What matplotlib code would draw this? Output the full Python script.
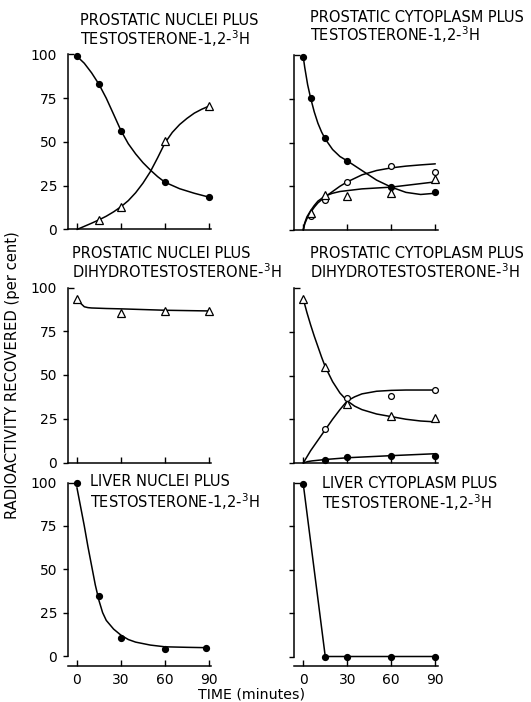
import matplotlib
matplotlib.use("Agg")
import matplotlib.pyplot as plt

# ---------------- data ----------------
# Prostatic nuclei + testosterone-1,2-3H
tl_T_time = [0, 15, 30, 60, 90]
tl_T = [99, 83, 56, 27, 18.5]
tl_D_time = [15, 30, 60, 90]
tl_D = [5.5, 13, 50.5, 70.5]
tl_T_fit_t = [0, 5, 10, 15, 20, 25, 30, 35, 40, 45, 50, 55, 60, 70, 80, 90]
tl_T_fit = [99, 95, 89.5, 83, 75, 65.8, 56.5, 49, 43.2, 38.2, 34, 30.2, 27, 23.3, 20.7, 18.5]
tl_D_fit_t = [0, 5, 10, 15, 20, 25, 30, 35, 40, 45, 50, 55, 60, 65, 70, 75, 80, 85, 90]
tl_D_fit = [0, 1.8, 3.6, 5.5, 7.6, 10.1, 13, 16.5, 21, 26.5, 33, 41, 49.5, 55.5, 60, 63.5, 66.5, 68.7, 70.5]

# Prostatic cytoplasm + testosterone-1,2-3H
tr_T_time = [0, 5, 15, 30, 60, 90]
tr_T = [99, 75.5, 52.5, 39.5, 24.5, 22]
tr_O_time = [5, 15, 30, 60, 90]
tr_O = [7.8, 17.3, 27.6, 36.8, 33.3]
tr_D_time = [5, 15, 30, 60, 90]
tr_D = [10, 20.2, 19.6, 21, 29]
tr_T_fit_t = [0, 1, 2, 3, 5, 7.5, 10, 12.5, 15, 20, 25, 30, 40, 50, 60, 70, 80, 90]
tr_T_fit = [99, 93, 88, 83, 75.5, 67.5, 61, 56, 52, 46, 42, 39.5, 34, 28.5, 24.5, 21.5, 20.3, 21]
tr_O_fit_t = [0, 1, 2.5, 5, 7.5, 10, 15, 20, 25, 30, 40, 50, 60, 70, 80, 90]
tr_O_fit = [0, 3.5, 6.5, 10, 13, 15.5, 19, 22, 25, 27.5, 31.5, 34, 35.5, 36.5, 37.2, 37.8]
tr_D_fit_t = [0, 1, 2.5, 5, 7.5, 10, 15, 20, 25, 30, 40, 50, 60, 70, 80, 90]
tr_D_fit = [0, 4, 7.5, 11, 14, 16.5, 19.5, 21, 22, 22.5, 23.5, 24, 24.5, 25.5, 26.5, 27.5]

# Prostatic nuclei + dihydrotestosterone-3H
ml_D_time = [0, 30, 60, 90]
ml_D = [93.5, 85.5, 86.7, 86.7]
ml_D_fit_t = [0, 2.5, 5, 7.5, 10, 20, 30, 45, 60, 75, 90]
ml_D_fit = [93.5, 91, 89, 88.5, 88.3, 88, 87.8, 87.4, 87, 86.8, 86.6]

# Prostatic cytoplasm + dihydrotestosterone-3H
mr_D_time = [0, 15, 30, 60, 90]
mr_D = [93.8, 54.8, 33.6, 26.9, 26]
mr_O_time = [15, 30, 60, 90]
mr_O = [19.2, 36.9, 38.5, 41.7]
mr_T_time = [15, 30, 60, 90]
mr_T = [1.9, 3.3, 3.8, 3.8]
mr_D_fit_t = [0, 2.5, 5, 7.5, 10, 12.5, 15, 20, 25, 30, 35, 40, 50, 60, 70, 80, 90]
mr_D_fit = [93.8, 86, 79, 72.5, 66.5, 60.5, 55, 46.5, 40, 35.5, 32.5, 30.5, 28, 26.5, 25, 24, 23.5]
mr_O_fit_t = [0, 5, 10, 15, 20, 25, 30, 35, 40, 50, 60, 70, 80, 90]
mr_O_fit = [0, 7, 13, 19, 25, 30.5, 35.5, 37.8, 39.5, 41, 41.5, 41.7, 41.7, 41.7]
mr_T_fit_t = [0, 3, 6, 15, 30, 60, 90]
mr_T_fit = [0, 0.8, 1.2, 2, 3, 4.2, 5.3]

# Liver nuclei + testosterone-1,2-3H
bl_T_time = [0, 15, 30, 60, 88]
bl_T = [100, 34.4, 10.4, 4.3, 4.8]
bl_T_fit_t = [0, 2.5, 5, 7.5, 10, 12.5, 15, 17.5, 20, 25, 30, 35, 40, 50, 60, 75, 88]
bl_T_fit = [97, 86, 75, 63, 52, 41, 32, 25, 20.5, 15.5, 12, 9.5, 8, 6.3, 5.3, 5, 4.8]

# Liver cytoplasm + testosterone-1,2-3H
br_T_time = [0, 15, 30, 60, 90]
br_T = [99.5, 0, 0, 0, 0]

titles = {
    "tl": ["PROSTATIC NUCLEI PLUS", "TESTOSTERONE-1,2-$^{3}$H"],
    "tr": ["PROSTATIC CYTOPLASM PLUS", "TESTOSTERONE-1,2-$^{3}$H"],
    "ml": ["PROSTATIC NUCLEI PLUS", "DIHYDROTESTOSTERONE-$^{3}$H"],
    "mr": ["PROSTATIC CYTOPLASM PLUS", "DIHYDROTESTOSTERONE-$^{3}$H"],
    "bl": ["LIVER NUCLEI PLUS", "TESTOSTERONE-1,2-$^{3}$H"],
    "br": ["LIVER CYTOPLASM PLUS", "TESTOSTERONE-1,2-$^{3}$H"],
}
yticks = [0, 25, 50, 75]
ytop = [100]
xticks = [0, 30, 60, 90]

# ---------------- figure ----------------
W, H = 531, 702
fig = plt.figure(figsize=(W / 100, H / 100), dpi=100)
plt.rcParams['font.family'] = ['DejaVu Sans']

def px_axes(left, top, width, height):
    return fig.add_axes([left / W, 1 - (top + height) / H, width / W, height / H])

colw = 143.5
axes = {
    "tl": px_axes(67.7, 54.5, colw, 175),
    "tr": px_axes(294.0, 55.0, colw, 175),
    "ml": px_axes(67.7, 287.5, colw, 175),
    "mr": px_axes(294.0, 288.0, colw, 175),
    "bl": px_axes(67.7, 482.5, colw, 173.5),
    "br": px_axes(294.0, 483.0, colw, 173.5),
}

for key, ax in axes.items():
    ax.set_xlim(-6.3, 91.5)
    ax.set_ylim(0, 100)
    for s in ("top", "right"):
        ax.spines[s].set_visible(False)
    for s in ("left", "bottom"):
        ax.spines[s].set_linewidth(1.1)
    ax.spines["left"].set_bounds(0, 100)
    left_col = key[1] == "l"
    ax.set_yticks(yticks, labels=[str(v) for v in yticks] if left_col else [])
    ax.set_yticks(ytop, labels=[str(v) for v in ytop] if left_col else [], minor=True)
    ax.set_xticks(xticks)
    ax.tick_params(axis="y", which="major", direction="out", length=3.5, width=1.0, pad=4, labelsize=10)
    ax.tick_params(axis="y", which="minor", direction="in", length=4, width=1.0, pad=7.5, labelsize=10)
    ax.tick_params(axis="x", direction="in", length=4, width=1.0, pad=5, labelsize=10)
    if key[0] != "b":
        ax.set_xticklabels([])
    else:
        ax.spines["bottom"].set_position(("outward", 7))
    ax.patch.set_alpha(0)

line_kw = dict(color="black", lw=1.1, solid_capstyle="round", solid_joinstyle="round", clip_on=False, zorder=2)
fill_kw = dict(ls="none", marker="o", ms=4.2, mfc="black", mec="black", clip_on=False, zorder=3)
open_kw = dict(ls="none", marker="o", ms=4.2, mfc="white", mec="black", mew=0.9, clip_on=False, zorder=3)
tri_kw = dict(ls="none", marker="^", ms=6, mfc="white", mec="black", mew=0.9, clip_on=False, zorder=3)

ax = axes["tl"]
ax.plot(tl_T_fit_t, tl_T_fit, **line_kw)
ax.plot(tl_D_fit_t, tl_D_fit, **line_kw)
ax.plot(tl_T_time, tl_T, **fill_kw)
ax.plot(tl_D_time, tl_D, **tri_kw)

ax = axes["tr"]
ax.plot(tr_T_fit_t, tr_T_fit, **line_kw)
ax.plot(tr_O_fit_t, tr_O_fit, **line_kw)
ax.plot(tr_D_fit_t, tr_D_fit, **line_kw)
ax.plot(tr_T_time, tr_T, **fill_kw)
ax.plot(tr_O_time, tr_O, **open_kw)
ax.plot(tr_D_time, tr_D, **tri_kw)

ax = axes["ml"]
ax.plot(ml_D_fit_t, ml_D_fit, **line_kw)
ax.plot(ml_D_time, ml_D, **tri_kw)

ax = axes["mr"]
ax.plot(mr_D_fit_t, mr_D_fit, **line_kw)
ax.plot(mr_O_fit_t, mr_O_fit, **line_kw)
ax.plot(mr_T_fit_t, mr_T_fit, **line_kw)
ax.plot(mr_D_time, mr_D, **tri_kw)
ax.plot(mr_O_time, mr_O, **open_kw)
ax.plot(mr_T_time, mr_T, **fill_kw)

ax = axes["bl"]
ax.plot(bl_T_fit_t, bl_T_fit, **line_kw)
ax.plot(bl_T_time, bl_T, **fill_kw)

ax = axes["br"]
ax.plot(br_T_time, br_T, **line_kw)
ax.plot(br_T_time, br_T, **fill_kw)

# titles (pixel positions: left x, centre y of each line)
title_pos = {
    "tl": (80, 20.5, 39),
    "tr": (310, 17, 34.5),
    "ml": (72, 253, 272),
    "mr": (310, 253, 272),
    "bl": (90, 482, 502),
    "br": (322, 483, 503),
}
for key, (x, y1, y2) in title_pos.items():
    l1, l2 = titles[key]
    fig.text(x / W, 1 - y1 / H, l1, ha="left", va="center", fontsize=10.5)
    fig.text(x / W, 1 - y2 / H, l2, ha="left", va="center", fontsize=10.5)

fig.text(13 / W, 1 - 375 / H, "RADIOACTIVITY RECOVERED (per cent)", rotation=90,
         ha="center", va="center", fontsize=10.6)
fig.text(252 / W, 1 - 695 / H, "TIME (minutes)", ha="center", va="center", fontsize=10.2)

fig.savefig("out.png", dpi=100)
